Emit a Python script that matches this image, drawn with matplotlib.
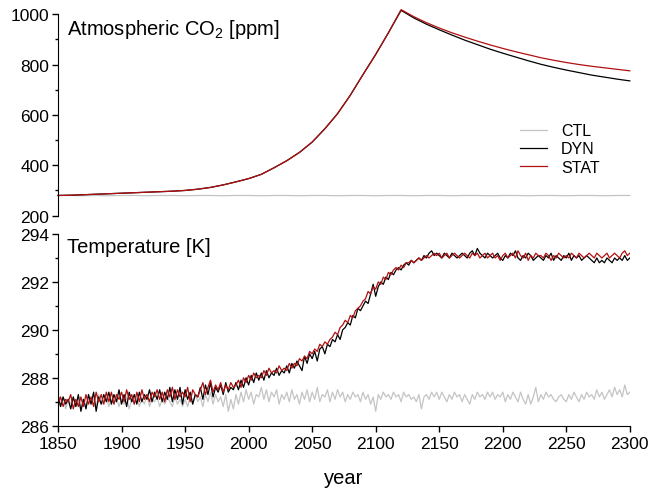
import numpy as np
import matplotlib
matplotlib.use("Agg")
import matplotlib.pyplot as plt

plt.rcParams['font.family'] = ['Liberation Sans', 'DejaVu Sans']

# CO2 [ppm], every 10 years
co2_years = list(range(1850, 2301, 10))
co2_ctl = [280, 280, 279, 280, 279, 280, 280, 279, 280, 280, 279, 280, 280, 279, 280, 280,
           279, 280, 280, 279, 280, 280, 279, 280, 280, 279, 280, 280, 279, 280, 280, 279,
           280, 280, 279, 280, 280, 279, 280, 280, 279, 280, 280, 279, 280, 280]
co2_dyn = [280, 281, 283, 285, 287, 289, 291, 293, 295, 297, 300, 305, 312, 322, 334, 347,
           364, 390, 418, 451, 492, 545, 605, 678, 760, 840, 926, 1015,
           985, 960, 938, 917, 897, 879, 861, 845, 830, 815, 801, 789, 778, 768, 758, 750,
           742, 735]
co2_stat = [280, 281, 283, 285, 287, 289, 291, 293, 295, 297, 300, 305, 312, 322, 334, 347,
            364, 390, 418, 451, 492, 545, 605, 678, 760, 840, 926, 1018,
            990, 966, 945, 926, 909, 893, 878, 864, 851, 839, 827, 817, 808, 800, 793, 787,
            781, 775]

# Temperature [K], every 2 years
t_years = list(range(1850, 2301, 2))
t_ctl = [
    287.1, 286.8, 287.2, 286.7, 287.1, 286.9, 287.2, 286.8, 287.0, 286.7,
    287.1, 286.8, 287.2, 286.9, 287.1, 286.8, 287.3, 286.9, 287.0, 287.2,
    286.8, 287.1, 286.9, 287.2, 286.8, 287.1, 286.9, 287.2, 286.7, 287.1,
    286.9, 287.2, 286.8, 287.1, 286.9, 287.3, 286.8, 287.1, 287.0, 287.2,
    286.8, 287.1, 286.9, 287.2, 287.0, 286.8, 287.2, 286.9, 287.1, 286.8,
    287.1, 286.8, 287.2, 286.9, 287.3, 287.0, 287.2, 286.8, 287.3, 287.0,
    287.4, 286.9, 287.3, 287.0, 287.2, 286.8, 287.3, 286.6, 287.1, 286.7,
    287.3, 286.9, 287.4, 287.0, 287.5, 287.1, 287.4, 286.9, 287.3, 287.2,
    287.6, 287.1, 287.5, 287.0, 287.4, 287.2, 287.5, 286.9, 287.3, 287.1,
    287.4, 287.0, 287.5, 287.1, 287.3, 286.9, 287.4, 287.1, 287.5, 287.0,
    287.4, 287.1, 287.6, 287.0, 287.3, 287.2, 287.5, 287.0, 287.4, 287.1,
    287.5, 287.2, 287.4, 287.0, 287.3, 287.1, 287.4, 287.2, 287.3, 287.0,
    287.4, 287.1, 287.3, 286.9, 287.2, 286.6, 287.3, 287.1, 287.4, 287.2,
    287.3, 287.1, 287.4, 287.2, 287.3, 287.0, 287.4, 287.2, 287.3, 287.1,
    287.2, 287.0, 287.3, 286.7, 287.2, 287.3, 287.1, 287.4, 287.2, 287.4,
    287.1, 287.4, 287.2, 287.0, 287.3, 287.1, 287.4, 287.2, 287.3, 287.0,
    287.3, 287.1, 286.9, 287.3, 287.1, 287.4, 287.2, 287.3, 287.1, 287.4,
    287.2, 287.4, 287.1, 287.3, 287.2, 287.4, 287.0, 287.3, 287.1, 287.4,
    287.2, 287.0, 287.4, 287.1, 286.9, 287.3, 286.9, 287.2, 287.6, 287.0,
    287.3, 287.1, 287.4, 287.2, 287.3, 287.1, 287.0, 287.2, 287.3, 287.1,
    287.0, 287.3, 287.1, 287.4, 287.2, 287.0, 287.3, 287.1, 287.4, 287.2,
    287.3, 287.1, 287.5, 287.2, 287.4, 287.1, 287.3, 287.5, 287.2, 287.6,
    287.3, 287.5, 287.2, 287.7, 287.3, 287.4]
t_dyn = [
    287.3, 286.8, 287.2, 286.9, 287.1, 286.7, 287.2, 286.8, 287.3, 286.6,
    287.1, 286.7, 287.3, 286.9, 287.4, 286.6, 287.2, 286.9, 287.3, 287.0,
    287.4, 286.9, 287.3, 287.0, 287.5, 286.9, 287.3, 286.8, 287.4, 287.0,
    287.3, 286.9, 287.4, 287.0, 287.3, 287.1, 287.5, 287.0, 287.4, 287.1,
    287.5, 287.0, 287.4, 287.1, 287.6, 287.0, 287.5, 287.1, 287.6, 286.9,
    287.5, 287.1, 287.4, 286.9, 287.3, 287.2, 287.6, 287.1, 287.7, 287.3,
    287.8, 287.2, 287.6, 287.4, 287.7, 287.3, 287.8, 287.4, 287.6, 287.5,
    287.8, 287.5, 287.9, 287.6, 288.0, 287.7, 288.1, 287.8, 288.2, 287.9,
    288.2, 287.9, 288.3, 288.0, 288.2, 288.1, 288.4, 288.1, 288.3, 288.2,
    288.5, 288.2, 288.6, 288.4, 288.7, 288.5, 288.3, 288.9, 288.6, 289.0,
    288.8, 289.1, 288.7, 289.2, 289.3, 289.0, 289.4, 289.3, 289.6, 289.5,
    289.8, 289.6, 290.0, 290.1, 290.3, 290.2, 290.6, 290.5, 290.9, 290.8,
    291.0, 291.2, 291.1, 291.5, 291.9, 291.4, 291.8, 292.0, 291.9, 292.2,
    292.1, 292.4, 292.3, 292.5, 292.6, 292.5, 292.7, 292.8, 292.7, 292.9,
    292.8, 292.9, 293.0, 292.9, 293.1, 293.0, 293.2, 293.3, 293.1, 293.2,
    293.1, 293.0, 293.2, 293.1, 293.0, 293.2, 293.1, 293.0, 293.1, 293.2,
    293.1, 293.0, 293.2, 293.3, 293.1, 293.4, 293.2, 293.1, 293.0, 293.2,
    293.1, 293.0, 293.1, 293.2, 293.0, 292.9, 293.1, 293.0, 293.2, 293.1,
    293.3, 293.0, 292.9, 293.1, 293.0, 293.2, 293.1, 292.9, 293.0, 293.1,
    293.0, 292.9, 293.1, 293.0, 293.2, 292.9, 293.1, 293.0, 292.9, 293.1,
    293.0, 293.2, 292.9, 293.1, 293.0, 293.1, 292.9, 293.0, 293.1, 293.0,
    292.9, 292.8, 293.0, 292.8, 292.9, 292.8, 293.0, 292.9, 292.8, 293.0,
    292.9, 293.0, 292.9, 293.1, 292.9, 293.0]
t_stat = [
    286.9, 287.2, 286.8, 287.1, 287.0, 287.3, 286.7, 287.1, 286.8, 287.2,
    286.8, 287.3, 286.9, 287.2, 286.8, 287.4, 287.0, 287.3, 286.9, 287.4,
    287.0, 287.4, 286.9, 287.3, 287.1, 287.4, 287.0, 287.5, 287.1, 287.3,
    286.9, 287.4, 287.0, 287.5, 287.1, 287.3, 287.0, 287.4, 287.2, 287.5,
    287.1, 287.4, 287.0, 287.5, 287.2, 287.6, 287.1, 287.5, 287.2, 287.4,
    287.2, 287.6, 287.0, 287.5, 287.3, 287.2, 287.5, 287.8, 287.3, 287.6,
    287.9, 287.4, 287.7, 287.5, 287.8, 287.4, 287.7, 287.5, 287.8, 287.6,
    287.7, 287.9, 287.6, 288.0, 287.8, 288.1, 287.9, 288.2, 288.0, 288.1,
    288.0, 288.3, 288.1, 288.4, 288.2, 288.3, 288.2, 288.5, 288.3, 288.4,
    288.3, 288.6, 288.4, 288.6, 288.5, 288.8, 288.7, 288.9, 288.8, 289.1,
    289.0, 289.2, 289.1, 289.4, 289.3, 289.5, 289.4, 289.6, 289.7, 289.9,
    289.8, 290.1, 290.2, 290.4, 290.3, 290.6, 290.5, 290.8, 290.9, 291.0,
    291.2, 291.3, 291.6, 291.5, 291.8, 291.7, 292.0, 291.9, 292.2, 292.1,
    292.4, 292.3, 292.5, 292.6, 292.5, 292.7, 292.6, 292.8, 292.8, 292.9,
    292.8, 292.9, 293.0, 292.9, 293.0, 293.1, 293.0, 293.1, 293.2, 293.1,
    293.2, 293.0, 293.1, 293.2, 293.0, 293.1, 293.2, 293.1, 293.0, 293.1,
    293.2, 293.1, 293.0, 293.2, 293.1, 293.2, 293.0, 293.1, 293.2, 293.0,
    293.1, 293.2, 293.0, 293.1, 292.9, 293.1, 293.2, 293.0, 293.1, 293.2,
    293.0, 293.3, 293.1, 293.0, 293.2, 292.9, 293.1, 293.0, 293.2, 293.1,
    293.1, 293.0, 293.2, 293.1, 292.9, 293.1, 293.0, 293.2, 293.1, 293.0,
    293.1, 293.0, 293.2, 293.1, 293.0, 293.2, 293.1, 293.0, 293.1, 293.2,
    293.1, 293.0, 293.2, 293.1, 293.0, 293.1, 293.2, 293.0, 293.1, 293.2,
    293.1, 293.0, 293.2, 293.3, 293.1, 293.2]

labels = ["CTL", "DYN", "STAT"]
colors = ["#c4c4c4", "black", "#b01010"]

fig = plt.figure(figsize=(6.52, 4.89), dpi=100)
ax1 = fig.add_axes([0.089, 0.557, 0.877, 0.412])
ax2 = fig.add_axes([0.089, 0.1274, 0.877, 0.392], sharex=ax1)

for vals, lab, col in zip([co2_ctl, co2_dyn, co2_stat], labels, colors):
    ax1.plot(co2_years, vals, color=col, lw=0.9, label=lab, clip_on=False)
for vals, col in zip([t_ctl, t_dyn, t_stat], colors):
    ax2.plot(t_years, vals, color=col, lw=0.9)

ax1.set_xlim(1850, 2300)
ax1.set_ylim(200, 1000)
ax1.set_yticks([200, 400, 600, 800, 1000])
ax1.set_yticks(range(300, 1000, 200), minor=True)
ax2.set_ylim(286, 294)
ax2.set_yticks([286, 288, 290, 292, 294])
ax2.set_yticks([287, 289, 291, 293], minor=True)
ax2.set_xticks(range(1850, 2301, 50))

for ax in (ax1, ax2):
    ax.spines['top'].set_visible(False)
    ax.spines['right'].set_visible(False)
    ax.tick_params(axis='both', which='major', direction='out', length=4.5, width=1,
                   labelsize=12.5, pad=2)
    ax.tick_params(axis='y', which='minor', direction='out', length=2.5, width=1)
ax1.spines['bottom'].set_visible(False)
ax1.tick_params(axis='x', which='both', bottom=False, labelbottom=False)
ax2.tick_params(axis='x', pad=3)

ax1.text(0.016, 0.985, r'Atmospheric CO$_\mathregular{2}$ [ppm]', transform=ax1.transAxes,
         fontsize=14.5, va='top', ha='left')
ax2.text(0.016, 0.985, 'Temperature [K]', transform=ax2.transAxes,
         fontsize=14.5, va='top', ha='left')
ax2.set_xlabel('year', fontsize=14.5, labelpad=12)

ax1.legend(loc='upper left', bbox_to_anchor=(0.782, 0.53), frameon=False, fontsize=11.5,
           handlelength=1.7, handletextpad=0.9, labelspacing=0.2)

fig.savefig('out.png', dpi=100)
